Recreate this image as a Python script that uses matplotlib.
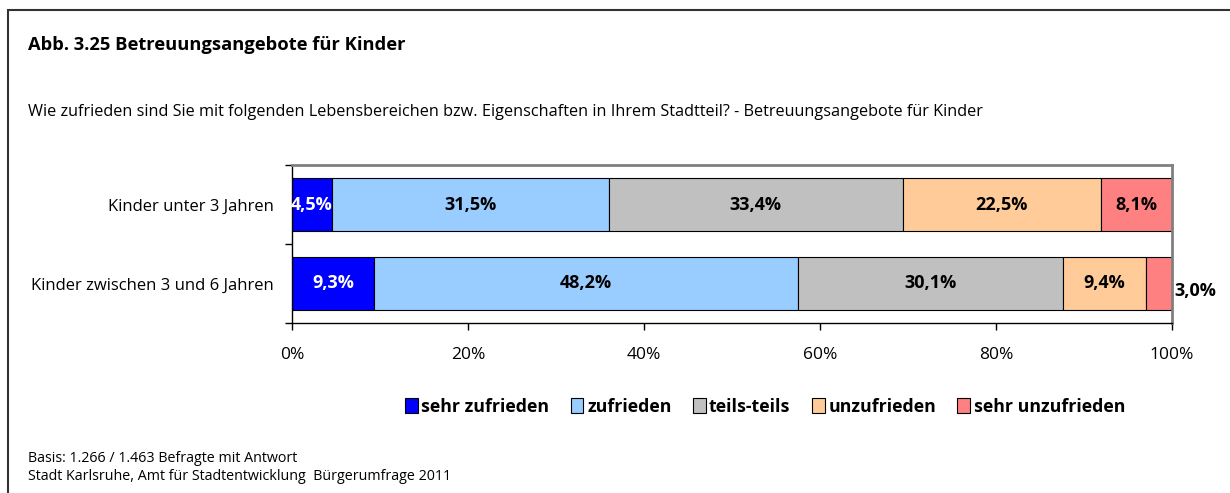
import numpy as np
import matplotlib
matplotlib.use("Agg")
import matplotlib.pyplot as plt
from matplotlib.patches import Rectangle

plt.rcParams['font.family'] = ['Open Sans', 'DejaVu Sans']

categories = ["Kinder unter 3 Jahren", "Kinder zwischen 3 und 6 Jahren"]
series = ["sehr zufrieden", "zufrieden", "teils-teils", "unzufrieden", "sehr unzufrieden"]
sehr_zufrieden = [4.5, 9.3]
zufrieden = [31.5, 48.2]
teils = [33.4, 30.1]
unzufrieden = [22.5, 9.4]
sehr_unzufrieden = [8.1, 3.0]
colors = ["#0000FF", "#99CCFF", "#C0C0C0", "#FFCC99", "#FF8080"]
label_colors = ["white", "black", "black", "black", "black"]
xticks = [0, 20, 40, 60, 80, 100]

values = [sehr_zufrieden, zufrieden, teils, unzufrieden, sehr_unzufrieden]

fig = plt.figure(figsize=(12.3, 4.93), dpi=100)
ax = fig.add_axes([292 / 1230, 1 - 323 / 493, 880 / 1230, 158 / 493])

y = np.array([1, 0])
left = np.zeros(2)
for i, vals in enumerate(values):
    vals = np.array(vals)
    ax.barh(y, vals, left=left, height=0.66, color=colors[i], edgecolor="black",
            linewidth=0.8, label=series[i])
    for j in range(2):
        txt = f"{vals[j]:.1f}%".replace(".", ",")
        if vals[j] < 4:
            ax.text(left[j] + vals[j] + 0.3, y[j] - 0.1, txt, ha="left", va="center",
                    fontsize=13, fontweight="bold", color="black", clip_on=False)
        else:
            ax.text(left[j] + vals[j] / 2, y[j], txt, ha="center", va="center",
                    fontsize=13, fontweight="bold", color=label_colors[i])
    left += vals

ax.set_xlim(0, 100)
ax.set_ylim(-0.5, 1.5)
ax.set_xticks(xticks)
ax.set_xticklabels([f"{t}%" for t in xticks], fontsize=12.5)
ax.tick_params(axis="x", direction="out", length=5, width=1, pad=12)
ax.set_yticks([-0.5, 0.5, 1.5])
ax.set_yticklabels([])
ax.tick_params(axis="y", which="major", direction="out", length=5, width=1)
ax.set_yticks(y, minor=True)
ax.set_yticklabels(categories, minor=True, fontsize=12)
ax.tick_params(axis="y", which="minor", length=0, pad=13)
for s in ["top", "right"]:
    ax.spines[s].set_color("#808080")
    ax.spines[s].set_linewidth(2)
for s in ["left", "bottom"]:
    ax.spines[s].set_color("black")
    ax.spines[s].set_linewidth(1)

fig.legend(loc="center", bbox_to_anchor=(765 / 1230, 1 - 407 / 493), ncol=5,
           frameon=False, handlelength=0.72, handleheight=0.9, handletextpad=0.2,
           columnspacing=1.2, prop={"weight": "bold", "size": 12.8})

fig.text(28 / 1230, 1 - 45 / 493, "Abb. 3.25 Betreuungsangebote für Kinder",
         fontsize=13.2, fontweight="bold", va="center", ha="left")
fig.text(28 / 1230, 1 - 112 / 493,
         "Wie zufrieden sind Sie mit folgenden Lebensbereichen bzw. Eigenschaften in Ihrem Stadtteil? - Betreuungsangebote für Kinder",
         fontsize=11.7, va="center", ha="left")
fig.text(28 / 1230, 1 - 458 / 493, "Basis: 1.266 / 1.463 Befragte mit Antwort",
         fontsize=10.3, va="center", ha="left")
fig.text(28 / 1230, 1 - 477 / 493, "Stadt Karlsruhe, Amt für Stadtentwicklung  Bürgerumfrage 2011",
         fontsize=10.3, va="center", ha="left")

fig.patches.append(Rectangle((8 / 1230, -0.1), 1.2, (1 - 10 / 493) + 0.1,
                             transform=fig.transFigure, fill=False,
                             edgecolor="#333333", linewidth=1.5))

fig.savefig("out.png", dpi=100)
